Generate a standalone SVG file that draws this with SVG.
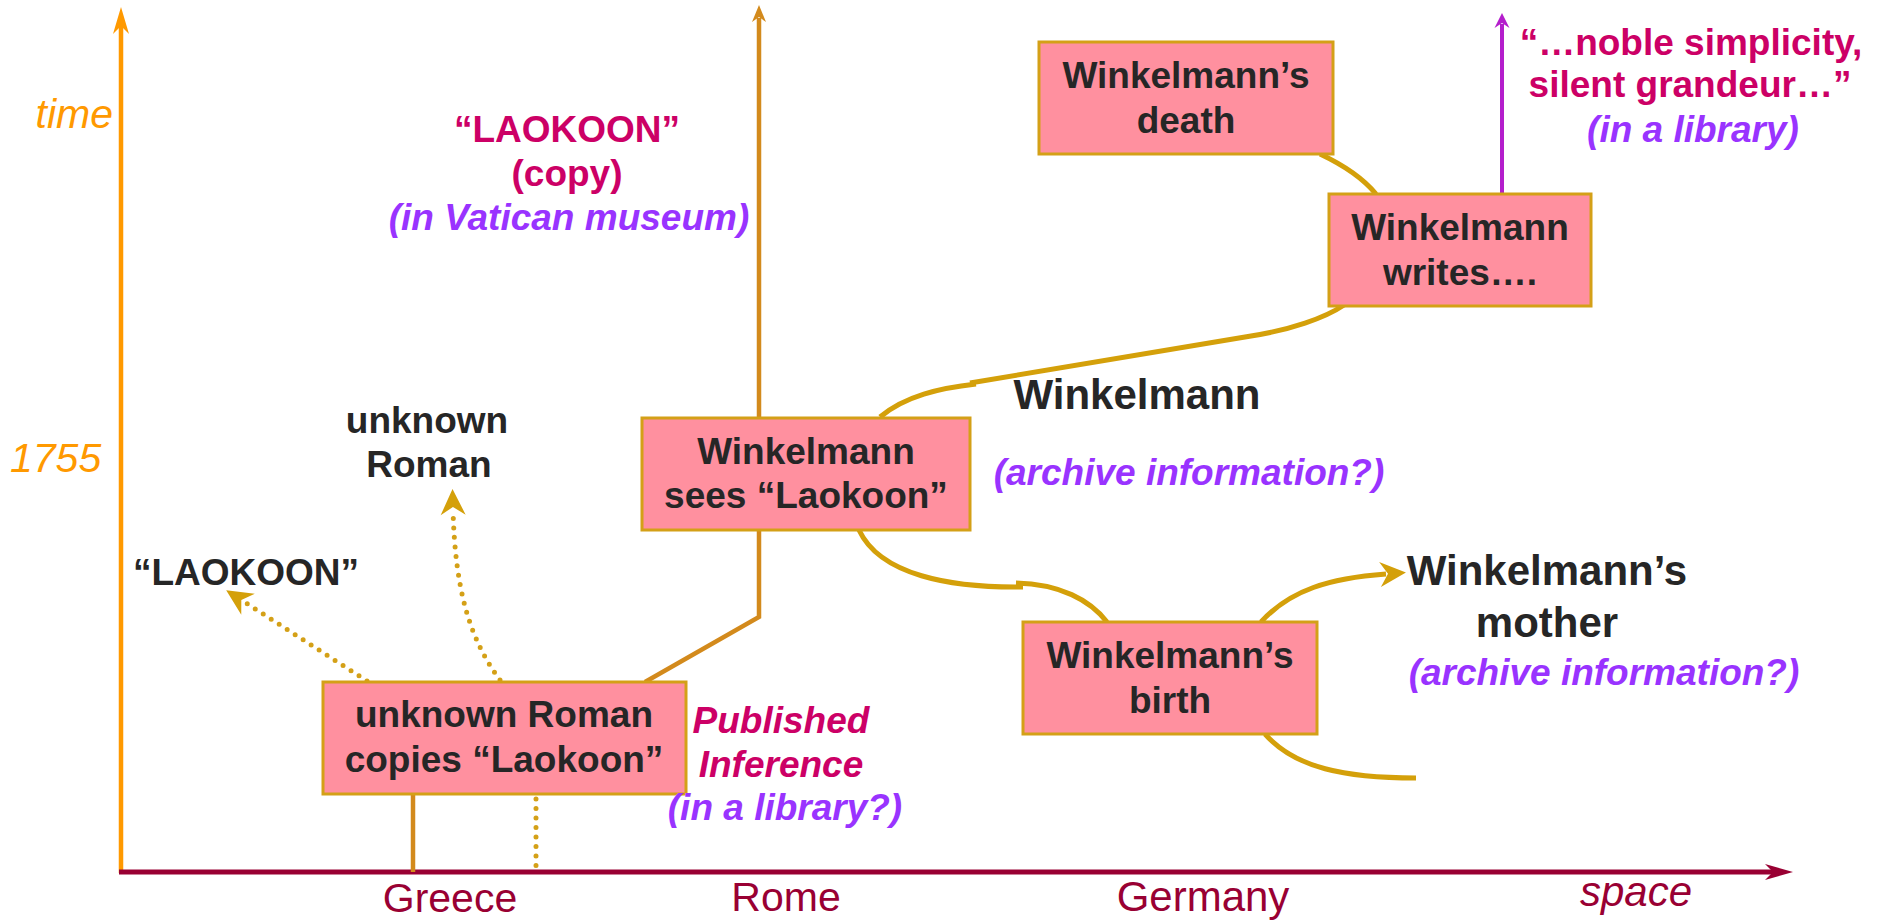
<svg xmlns="http://www.w3.org/2000/svg" width="1881" height="921" viewBox="0 0 1881 921">
<style>
text{font-family:"Liberation Sans",Arial,Helvetica,sans-serif}
.b{font-weight:bold;font-size:37px;fill:#262626;text-anchor:middle}
.lbl{font-weight:bold;font-size:42px;fill:#262626;text-anchor:middle}
.mag{font-weight:bold;font-size:37px;fill:#CC0066;text-anchor:middle}
.magi{font-weight:bold;font-style:italic;font-size:37px;fill:#CC0066;text-anchor:middle}
.pur{font-weight:bold;font-style:italic;font-size:37px;fill:#9933FF;text-anchor:middle}
.ax{font-size:41px;fill:#990033;text-anchor:middle}
.or{font-size:41px;font-style:italic;fill:#FF9900}
.box{fill:#FF909F;stroke:#D4A017;stroke-width:3}
.cur{fill:none;stroke:#D4A00A;stroke-width:5}
.rl{fill:none;stroke:#D38A1C;stroke-width:4.5}
.dot{fill:none;stroke:#D4A017;stroke-width:5;stroke-linecap:round;stroke-dasharray:0 9.5}
</style>
<defs>
<marker id="mTime" markerUnits="userSpaceOnUse" viewBox="-30 -10 32 20" markerWidth="32" markerHeight="20" refX="-18" refY="0" orient="auto"><path d="M0,0 L-27,-8 L-19,0 L-27,8 Z" fill="#FF9900"/></marker>
<marker id="mSpace" markerUnits="userSpaceOnUse" viewBox="-30 -10 32 20" markerWidth="32" markerHeight="20" refX="-18" refY="0" orient="auto"><path d="M0,0 L-28,-8 L-20,0 L-28,8 Z" fill="#990033"/></marker>
<marker id="mRome" markerUnits="userSpaceOnUse" viewBox="-20 -8 22 16" markerWidth="22" markerHeight="16" refX="-13" refY="0" orient="auto"><path d="M0,0 L-17,-7 L-12,0 L-17,7 Z" fill="#D38A1C"/></marker>
<marker id="mPur" markerUnits="userSpaceOnUse" viewBox="-20 -9 22 18" markerWidth="22" markerHeight="18" refX="-11" refY="0" orient="auto"><path d="M0,0 L-15,-7.5 L-10,0 L-15,7.5 Z" fill="#B41ECC"/></marker>
<marker id="mGold" markerUnits="userSpaceOnUse" viewBox="-30 -15 32 30" markerWidth="32" markerHeight="30" refX="-20" refY="0" orient="auto"><path d="M0,0 L-26,-12.5 L-18,0 L-26,12.5 Z" fill="#D4A00A"/></marker>
</defs>

<g id="axes">
<line x1="121" y1="873" x2="121" y2="25" stroke="#FF9900" stroke-width="4.5" marker-end="url(#mTime)"/>
<line x1="119" y1="872" x2="1775" y2="872" stroke="#990033" stroke-width="5" marker-end="url(#mSpace)"/>
<text class="or" x="113" y="128" text-anchor="end">time</text>
<text class="or" x="10" y="472">1755</text>
<text class="ax" x="450" y="912">Greece</text>
<text class="ax" x="786" y="911">Rome</text>
<text class="ax" x="1203" y="911" style="font-size:42px">Germany</text>
<text class="ax" x="1636" y="906" style="font-size:42px;font-style:italic">space</text>
</g>

<g id="connectors">
<path class="rl" d="M645,682 L759,617 L759,18" marker-end="url(#mRome)"/>
<path class="rl" d="M413,794 L413,872"/>
<path class="dot" d="M536,799 L536,868"/>
<path class="dot" d="M367,681 L243,601" marker-end="url(#mGold)"/>
<path class="dot" d="M500,680 C470,640 455,590 453,509" marker-end="url(#mGold)"/>
<path class="cur" d="M880,417 C905,396 940,388 976,384"/>
<path class="cur" d="M970,383 L1251,336 C1290,330 1325,318 1344,305"/>
<path class="cur" d="M1320,154 Q1358,172 1376,194"/>
<line x1="1502" y1="194" x2="1502" y2="24" stroke="#B41ECC" stroke-width="4" marker-end="url(#mPur)"/>
<path class="cur" d="M859,530 C880,575 950,588 1023,587"/>
<path class="cur" d="M1016,583 C1060,584 1090,600 1107,622"/>
<path class="cur" d="M1261,622 C1290,590 1330,578 1386,574" marker-end="url(#mGold)"/>
<path class="cur" d="M1265,734 C1295,768 1345,778 1416,778"/>
</g>

<g id="node-copies">
<rect class="box" x="323" y="682" width="363" height="112"/>
<text class="b" x="504" y="727">unknown Roman</text>
<text class="b" x="504" y="772">copies “Laokoon”</text>
</g>
<g id="node-sees">
<rect class="box" x="642" y="418" width="328" height="112"/>
<text class="b" x="806" y="464">Winkelmann</text>
<text class="b" x="806" y="508">sees “Laokoon”</text>
</g>
<g id="node-death">
<rect class="box" x="1039" y="42" width="294" height="112"/>
<text class="b" x="1186" y="88">Winkelmann’s</text>
<text class="b" x="1186" y="133">death</text>
</g>
<g id="node-writes">
<rect class="box" x="1329" y="194" width="262" height="112"/>
<text class="b" x="1460" y="240">Winkelmann</text>
<text class="b" x="1460" y="285">writes….</text>
</g>
<g id="node-birth">
<rect class="box" x="1023" y="622" width="294" height="112"/>
<text class="b" x="1170" y="668">Winkelmann’s</text>
<text class="b" x="1170" y="713">birth</text>
</g>

<g id="label-laokoon">
<text class="b" x="246" y="585">“LAOKOON”</text>
</g>
<g id="label-unknown-roman">
<text class="b" x="427" y="433">unknown</text>
<text class="b" x="429" y="477">Roman</text>
</g>
<g id="label-copy">
<text class="mag" x="567" y="142">“LAOKOON”</text>
<text class="mag" x="567" y="186">(copy)</text>
<text class="pur" x="569" y="230">(in Vatican museum)</text>
</g>
<g id="label-published">
<text class="magi" x="781" y="733">Published</text>
<text class="magi" x="781" y="777">Inference</text>
<text class="pur" x="785" y="820">(in a library?)</text>
</g>
<g id="label-winkelmann">
<text class="lbl" x="1137" y="409">Winkelmann</text>
<text class="pur" x="1189" y="485">(archive information?)</text>
</g>
<g id="label-mother">
<text class="lbl" x="1547" y="585">Winkelmann’s</text>
<text class="lbl" x="1547" y="637">mother</text>
<text class="pur" x="1604" y="685">(archive information?)</text>
</g>
<g id="label-quote">
<text class="mag" x="1691" y="55">“…noble simplicity,</text>
<text class="mag" x="1690" y="97">silent grandeur…”</text>
<text class="pur" x="1693" y="142">(in a library)</text>
</g>
</svg>
